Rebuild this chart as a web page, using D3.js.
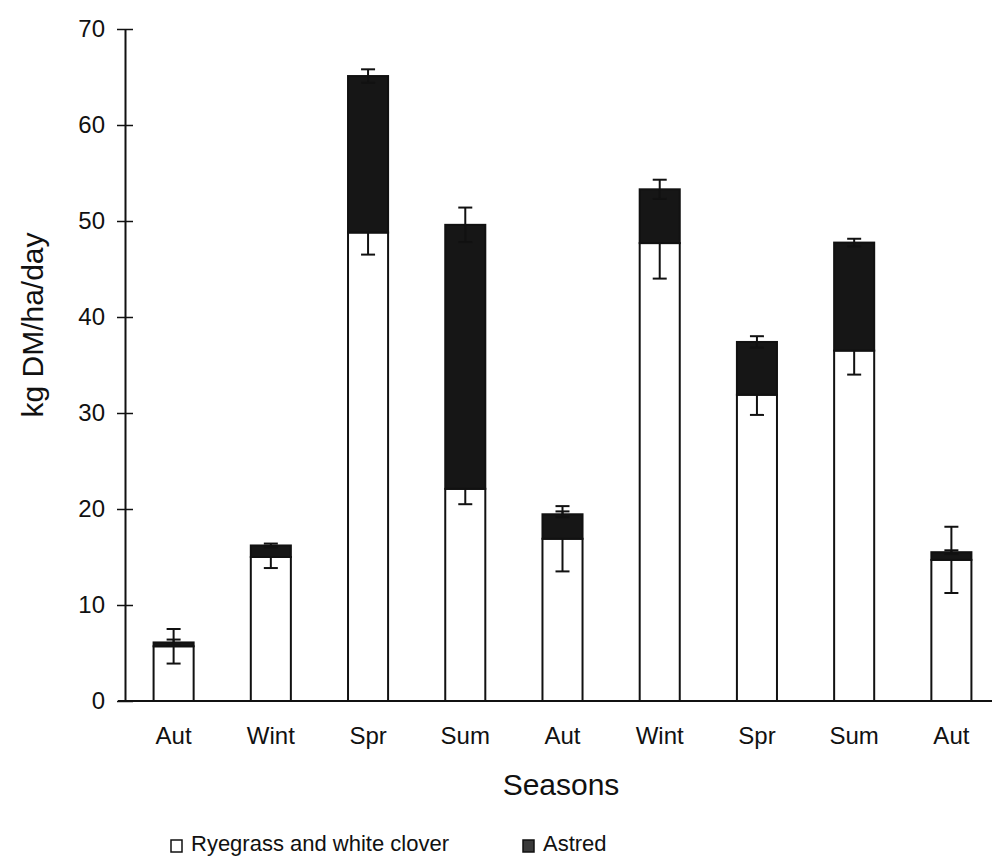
<!DOCTYPE html>
<html>
<head>
<meta charset="utf-8">
<script src="https://cdn.jsdelivr.net/npm/d3@7"></script>
<style>
  html, body { margin: 0; padding: 0; background: #fff; }
  svg { display: block; font-family: "Liberation Sans", Arial, sans-serif; }
</style>
</head>
<body>
<svg id="chart" width="992" height="859"></svg>
<script>
// Seasonal growth rate of pasture components (kg DM/ha/day)
const seasons = ["Aut", "Wint", "Spr", "Sum", "Aut", "Wint", "Spr", "Sum", "Aut"];
const ryegrassClover = [5.7, 15.0, 48.8, 22.1, 16.9, 47.7, 31.9, 36.5, 14.7];
const ryegrassCloverErr = [1.8, 1.15, 2.3, 1.6, 3.4, 3.7, 2.1, 2.5, 3.45];
const astred = [0.4, 1.2, 16.3, 27.5, 2.55, 5.6, 5.5, 11.25, 0.8];
const totalErr = [0.3, 0.2, 0.7, 1.8, 0.3, 1.0, 0.6, 0.4, 0.2];
const yTicks = [0, 10, 20, 30, 40, 50, 60, 70];
const seriesNames = ["Ryegrass and white clover", "Astred"];

const svg = d3.select("#chart");
const ink = "#111";
const darkFill = "#161616";

const x = d3.scaleBand()
  .domain(d3.range(seasons.length))
  .range([125, 1000])
  .paddingInner(0.588)
  .paddingOuter(0.294);

const y = d3.scaleLinear().domain([0, 70]).range([701, 29]);

// y axis: ticks cross the axis line
const yAxis = d3.axisLeft(y).tickValues(yTicks).tickSize(8).tickPadding(12).tickSizeOuter(0);
const gy = svg.append("g").attr("transform", "translate(125,0)").call(yAxis);
gy.select(".domain").attr("stroke", ink).attr("stroke-width", 2);
gy.selectAll(".tick line").clone().attr("x2", 8);
gy.selectAll(".tick line").attr("stroke", ink).attr("stroke-width", 1.5);
gy.selectAll(".tick text").attr("font-size", 24).attr("fill", "#111");

// x axis line
const gx = svg.append("g").attr("transform", "translate(0,701)")
  .call(d3.axisBottom(x).tickSize(0).tickPadding(26).tickFormat(i => seasons[i]));
gx.select(".domain").attr("d", "M118,0H992").attr("stroke", ink).attr("stroke-width", 2);
gx.selectAll(".tick text").attr("font-size", 24).attr("fill", "#111");

const bars = svg.append("g");
const bw = x.bandwidth();
const capW = 14;

function errorBar(g, cx, v, e) {
  g.append("line").attr("x1", cx).attr("x2", cx).attr("y1", y(v - e)).attr("y2", y(v + e));
  g.append("line").attr("x1", cx - capW / 2).attr("x2", cx + capW / 2).attr("y1", y(v - e)).attr("y2", y(v - e));
  g.append("line").attr("x1", cx - capW / 2).attr("x2", cx + capW / 2).attr("y1", y(v + e)).attr("y2", y(v + e));
}

seasons.forEach((s, i) => {
  const g = bars.append("g");
  const x0 = x(i);
  const cx = x0 + bw / 2;
  const base = ryegrassClover[i];
  const top = base + astred[i];

  g.append("rect")
    .attr("x", x0).attr("y", y(base))
    .attr("width", bw).attr("height", y(0) - y(base))
    .attr("fill", "#fff").attr("stroke", ink).attr("stroke-width", 2);

  const e1 = g.append("g").attr("stroke", ink).attr("stroke-width", 2);
  errorBar(e1, cx, base, ryegrassCloverErr[i]);

  g.append("rect")
    .attr("x", x0).attr("y", y(top))
    .attr("width", bw).attr("height", y(base) - y(top))
    .attr("fill", darkFill).attr("stroke", ink).attr("stroke-width", 2);

  const e2 = g.append("g").attr("stroke", ink).attr("stroke-width", 2);
  errorBar(e2, cx, top, totalErr[i]);
});

// axis titles
svg.append("text")
  .attr("x", 561).attr("y", 795)
  .attr("text-anchor", "middle")
  .attr("font-size", 30).attr("fill", "#111")
  .text("Seasons");

svg.append("text")
  .attr("transform", "translate(43,325) rotate(-90)")
  .attr("text-anchor", "middle")
  .attr("font-size", 30).attr("fill", "#111")
  .text("kg DM/ha/day");

// legend
const legend = svg.append("g");
const legendItems = [
  { name: seriesNames[0], sx: 171, fill: "#fff" },
  { name: seriesNames[1], sx: 523, fill: "#3a3a3a" }
];
legendItems.forEach(d => {
  legend.append("rect")
    .attr("x", d.sx).attr("y", 840).attr("width", 11).attr("height", 12)
    .attr("fill", d.fill).attr("stroke", ink).attr("stroke-width", 1.5);
  legend.append("text")
    .attr("x", d.sx + 20).attr("y", 851)
    .attr("font-size", 22).attr("fill", "#111")
    .text(d.name);
});
</script>
</body>
</html>
